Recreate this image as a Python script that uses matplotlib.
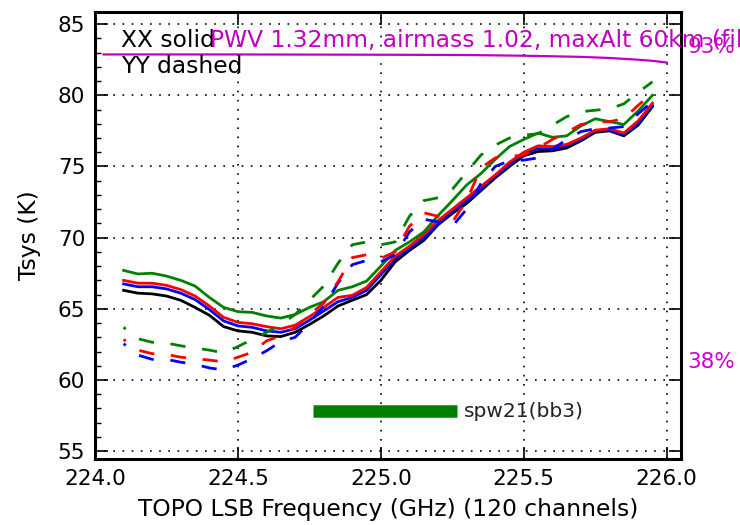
import matplotlib
matplotlib.use('Agg')
import matplotlib.pyplot as plt
from matplotlib.ticker import MultipleLocator, FormatStrFormatter

freq = [224.10, 224.15, 224.20, 224.25, 224.30, 224.35, 224.40, 224.45, 224.50, 224.55,
        224.60, 224.65, 224.70, 224.75, 224.80, 224.85, 224.90, 224.95, 225.00, 225.05,
        225.10, 225.15, 225.20, 225.25, 225.30, 225.35, 225.40, 225.45, 225.50, 225.55,
        225.60, 225.65, 225.70, 225.75, 225.80, 225.85, 225.90, 225.95]

# XX (solid)
xx_black = [66.3, 66.1, 66.05, 65.9, 65.6, 65.1, 64.55, 63.75, 63.45, 63.35,
            63.1, 63.05, 63.35, 63.9, 64.5, 65.2, 65.6, 66.0, 67.0, 68.3,
            69.1, 69.8, 70.9, 71.7, 72.4, 73.3, 74.2, 75.0, 75.75, 76.05,
            76.1, 76.3, 76.8, 77.4, 77.5, 77.15, 77.9, 79.2]
xx_blue = [66.75, 66.55, 66.55, 66.4, 66.1, 65.65, 64.95, 64.15, 63.8, 63.7,
           63.45, 63.35, 63.6, 64.2, 64.85, 65.5, 65.8, 66.3, 67.4, 68.5,
           69.25, 70.0, 71.0, 71.85, 72.6, 73.45, 74.3, 75.15, 75.9, 76.25,
           76.25, 76.45, 76.9, 77.5, 77.55, 77.25, 78.05, 79.3]
xx_red = [67.0, 66.8, 66.8, 66.65, 66.35, 65.9, 65.2, 64.4, 64.05, 63.95,
          63.75, 63.6, 63.85, 64.45, 65.1, 65.8, 65.95, 66.5, 67.6, 68.7,
          69.4, 70.2, 71.2, 72.0, 72.8, 73.6, 74.4, 75.3, 76.0, 76.45,
          76.4, 76.55, 77.0, 77.55, 77.65, 77.35, 78.2, 79.45]
xx_green = [67.7, 67.45, 67.5, 67.3, 67.0, 66.6, 65.8, 65.1, 64.8, 64.75,
            64.5, 64.35, 64.6, 65.1, 65.5, 66.3, 66.55, 66.95, 68.0, 69.1,
            69.7, 70.4, 71.55, 72.6, 73.7, 74.5, 75.5, 76.4, 76.9, 77.35,
            77.05, 77.15, 77.85, 78.35, 78.15, 77.95, 78.9, 80.0]

# YY (dashed)
yy_blue = [62.55, 61.75, 61.45, 61.45, 61.25, 61.1, 60.85, 60.7, 61.05, 61.5,
           62.05, 62.7, 63.0, 64.0, 65.2, 66.8, 68.1, 68.4, 68.3, 68.8,
           70.4, 71.3, 71.1, 70.8, 72.0, 73.8, 75.0, 75.4, 75.45, 75.6,
           76.2, 76.9, 77.45, 77.65, 77.7, 77.8, 78.7, 79.55]
yy_red = [62.85, 62.1, 61.85, 61.8, 61.6, 61.5, 61.4, 61.27, 61.6, 61.95,
          62.75, 63.1, 63.7, 64.6, 65.4, 66.9, 68.6, 68.8, 68.55, 69.0,
          70.8, 71.75, 71.5, 71.1, 72.6, 74.9, 75.6, 75.7, 75.8, 76.3,
          76.9, 77.4, 77.95, 78.1, 78.15, 78.35, 79.3, 80.15]
yy_green = [63.7, 62.9, 62.65, 62.6, 62.4, 62.25, 62.1, 61.9, 62.35, 62.85,
            63.35, 63.9, 64.6, 65.6, 66.6, 68.2, 69.5, 69.7, 69.5, 69.7,
            71.5, 72.6, 72.8, 73.4, 74.6, 75.8, 76.5, 77.0, 77.2, 77.3,
            77.9, 78.5, 78.85, 78.95, 79.05, 79.4, 80.2, 80.95]

# atmospheric transmission curve (drawn in Tsys units)
trans_freq = [224.03, 224.50, 225.00, 225.30, 225.50, 225.70, 225.80, 225.90, 225.95, 226.00]
trans_val = [82.87, 82.87, 82.85, 82.83, 82.78, 82.70, 82.62, 82.50, 82.42, 82.30]

spw_range = [224.762, 225.266]
spw_level = 57.8

fs = 15.5
fs_big = 16.8
plt.rcParams['font.family'] = 'DejaVu Sans'
plt.rcParams['font.size'] = fs

fig = plt.figure(figsize=(7.4, 5.25), dpi=100)
ax = fig.add_axes([0.1284, 0.1257, 0.7919, 0.8514])

lw = 2.0
for y, c in [(xx_black, 'k'), (xx_blue, 'b'), (xx_red, 'r'), (xx_green, 'g')]:
    ax.plot(freq, y, '-', color=c, lw=lw)
# dash pattern is scaled by linewidth
for y, c in [(yy_blue, 'b'), (yy_red, 'r'), (yy_green, 'g')]:
    ax.plot(freq, y, color=c, lw=lw, linestyle=(4.5, (5.5, 6)))

magenta = (0.75, 0, 0.75)
ax.plot(trans_freq, trans_val, '-', color=magenta, lw=1.6)
ax.plot(spw_range, [spw_level, spw_level], '-', color='g', lw=9, solid_capstyle='butt')
ax.text(225.29, spw_level, 'spw21(bb3)', fontsize=14.5, color='#222222', va='center', ha='left')

ax.text(224.091, 83.4, 'XX solid', color='k', fontsize=fs_big)
ax.text(224.091, 81.55, 'YY dashed', color='k', fontsize=fs_big)
ax.text(224.402, 83.4, 'PWV 1.32mm, airmass 1.02, maxAlt 60km (file)',
        color=magenta, fontsize=fs_big, clip_on=False)
ax.text(226.073, 83.4, '93%', color=(0.8, 0, 0.8), fontsize=fs, va='center', clip_on=False)
ax.text(226.073, 61.25, '38%', color=(0.8, 0, 0.8), fontsize=fs, va='center', clip_on=False)

ax.set_xlim(224.0, 226.05)
ax.set_ylim(54.45, 85.85)
ax.xaxis.set_major_locator(MultipleLocator(0.5))
ax.xaxis.set_major_formatter(FormatStrFormatter('%.1f'))
ax.yaxis.set_major_locator(MultipleLocator(5))
ax.yaxis.set_minor_locator(MultipleLocator(1))
ax.grid(True, which='major', color='k', linestyle=(0, (1, 4.5)), linewidth=1.2)

ax.tick_params(which='major', direction='in', top=True, right=True, length=9, width=1.2,
               labelsize=fs, pad=7)
ax.tick_params(which='minor', direction='in', left=True, right=False, length=4, width=1)
for s in ax.spines.values():
    s.set_linewidth(2.2)

ax.set_xlabel('TOPO LSB Frequency (GHz) (120 channels)', fontsize=fs_big, labelpad=7)
ax.set_ylabel('Tsys (K)', fontsize=fs_big, labelpad=12)

plt.savefig('out.png', dpi=100)
